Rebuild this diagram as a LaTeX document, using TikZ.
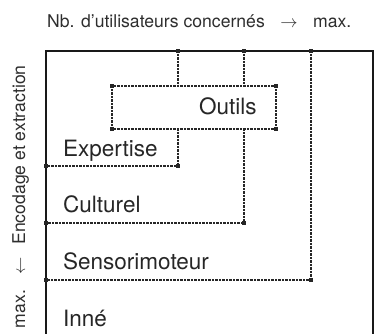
\documentclass[tikz,border=0pt]{standalone}
\usepackage{fontspec}
\setmainfont{TeX Gyre Heros}
\usetikzlibrary{calc,positioning}
\tikzset{
	frame/.style={line width=2pt, color=black!90},
	level/.style={line width=1.4pt, color=black!85, dash pattern=on 0.7pt off 0.7pt},
	levelname/.style={font=\fontsize{22.5}{23}\selectfont, anchor=base west, inner sep=0pt, color=black!85},
	axisname/.style={font=\fontsize{17.6}{18}\selectfont, inner sep=0pt, color=black!82},
}
\def\corner(#1){\fill[black!85] ($(#1)+(-1.6,-1.6)$) rectangle ($(#1)+(1.6,1.6)$);}

\begin{document}
\begin{tikzpicture}[x=1pt, y=-1pt]
			%%%%% START %%%%%
			\useasboundingbox (0, 0) rectangle (376, 334);
			
			% axes
			\node[axisname, anchor=base west] (users) at (47, 28) {Nb. d’utilisateurs concernés};
			\node[axisname, anchor=base] (rarrow) at (289, 28) {$\rightarrow$};
			\node[axisname, anchor=base west] (umax) at (313, 28) {max.};
			\node[axisname, anchor=base, rotate=90] (coding) at (25, 155) {Encodage et extraction};
			\node[axisname, anchor=base, rotate=90] (darrow) at (25, 266) {$\leftarrow$};
			\node[axisname, anchor=base, rotate=90] (cmax) at (25, 309) {max.};
			
			% frame
			\draw[frame] (46, 340) -- (46, 51) -- (373, 51) -- (373, 340);
			
			% levels
			\coordinate (ol) at (112, 86);
			\coordinate (or) at (276, 129);
			\coordinate (ta) at (178, 51);
			\coordinate (tb) at (244, 51);
			\coordinate (tc) at (311, 51);
			\coordinate (ea) at (178, 166);
			\coordinate (eb) at (244, 223);
			\coordinate (ec) at (311, 280);
			
			\draw[level] (ol) rectangle (or);
			\draw[level] (ta) -- (ta |- ol);
			\draw[level] (tb) -- (tb |- ol);
			\draw[level] (ta |- or) -- (ea) -- (46, 166);
			\draw[level] (tb |- or) -- (eb) -- (46, 223);
			\draw[level] (tc) -- (ec) -- (46, 280);
			
			\corner(ol) \corner(or) \corner(ol -| or) \corner(ol |- or)
			\corner(ta) \corner(tb) \corner(tc)
			\corner(ea) \corner(eb) \corner(ec)
			\corner(46, 166) \corner(46, 223) \corner(46, 280)
			
			\node[levelname] (tools) at (199, 115) {Outils};
			\node[levelname] (expert) at (63, 157) {Expertise};
			\node[levelname] (culture) at (63, 213) {Culturel};
			\node[levelname] (sensori) at (63, 270) {Sensorimoteur};
			\node[levelname] (innate) at (63, 327) {Inné};
			
			%%%%% END %%%%%
\end{tikzpicture}
\end{document}
